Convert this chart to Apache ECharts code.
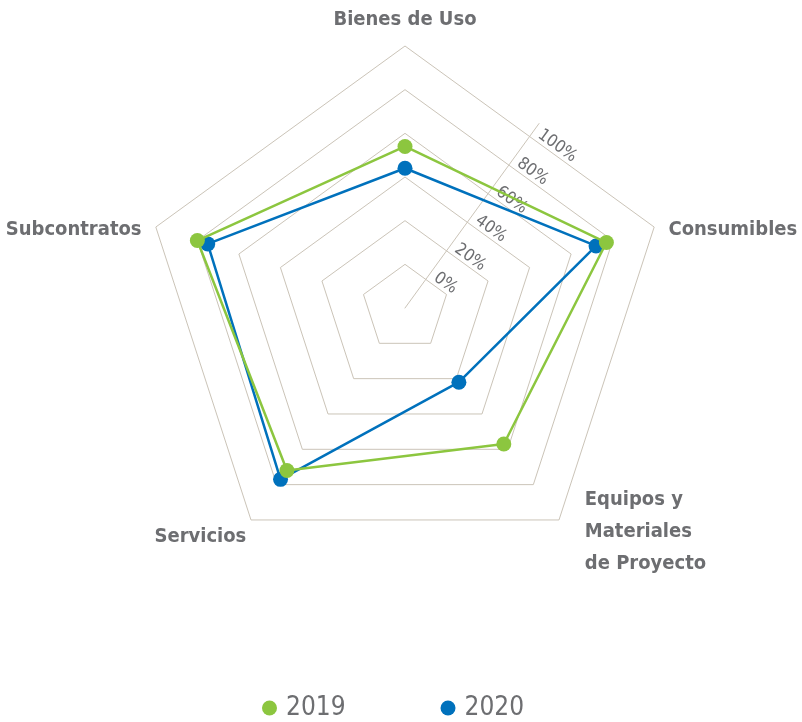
<!DOCTYPE html>
<html><head><meta charset="utf-8">
<script src="https://cdn.jsdelivr.net/npm/echarts@6/dist/echarts.min.js"></script>
<style>html,body{margin:0;padding:0;background:#fff}#c{width:802px;height:722px}</style>
</head><body><div id="c"></div>
<script>
// Indicators listed in ECharts drawing order (counter-clockwise from the top)
const categories = ['Bienes de Uso', 'Subcontratos', 'Servicios', 'Equipos y\nMateriales\nde Proyecto', 'Consumibles'];
const values2019 = [54, 80, 72, 57, 77];
const values2020 = [44, 75, 77, 22, 72];
const seriesNames = ['2019', '2020'];
const tickValues = [0, 20, 40, 60, 80, 100];

const FONT = '"Liberation Sans Narrow", "DejaVu Sans Condensed", Roboto, sans-serif';
const GREEN = '#8cc63f', BLUE = '#0071bc', GRID = '#cbc4b8', TXT = '#6d6e71';

// per-indicator name placement tweaks
const nameTweaks = [
  {nameGap: 10},
  {nameTextStyle: {verticalAlign: 'top', lineHeight: 14}},
  {nameGap: 8, nameTextStyle: {verticalAlign: 'top', lineHeight: 20}},
  {nameTextStyle: {padding: [0, 0, 0, 17]}},
  {nameTextStyle: {verticalAlign: 'top', lineHeight: 14}}
];

const chart = echarts.init(document.getElementById('c'), null, {renderer: 'canvas'});
chart.setOption({
  animation: false,
  backgroundColor: '#fff',
  legend: {
    data: seriesNames, left: 257, top: 690, icon: 'circle',
    itemWidth: 15, itemHeight: 15, itemGap: 95,
    textStyle: {fontSize: 26, color: TXT, fontFamily: FONT, padding: [0, 0, 0, 4]}
  },
  radar: {
    center: [405, 308], radius: 262, startAngle: 90, shape: 'polygon', splitNumber: 6,
    nameGap: 15,
    axisName: {color: TXT, fontWeight: 'bold', fontSize: 20, fontFamily: FONT, lineHeight: 32},
    indicator: categories.map((n, i) => Object.assign({name: n, min: -20, max: 100}, nameTweaks[i])),
    axisLine: {show: false}, axisTick: {show: false}, axisLabel: {show: false},
    splitLine: {lineStyle: {color: GRID, width: 1}},
    splitArea: {show: false}
  },
  polar: {center: [405, 308], radius: 228},
  angleAxis: {show: false, startAngle: 54, min: 0, max: 360},
  radiusAxis: {
    min: -20, max: 109, interval: 20,
    axisLine: {show: true, lineStyle: {color: GRID, width: 1}},
    axisTick: {show: false}, splitLine: {show: false},
    axisLabel: {
      rotate: -36, margin: -6, align: 'left', verticalAlign: 'bottom',
      color: TXT, fontSize: 17, fontFamily: FONT,
      formatter: v => tickValues.includes(v) ? v + '%' : ''
    }
  },
  series: [
    {type: 'radar', name: '2020', symbol: 'circle', symbolSize: 15, z: 2,
     lineStyle: {width: 2.5, color: BLUE}, itemStyle: {color: BLUE},
     data: [{name: '2020', value: values2020}]},
    {type: 'radar', name: '2019', symbol: 'circle', symbolSize: 15, z: 3,
     lineStyle: {width: 2.5, color: GREEN}, itemStyle: {color: GREEN},
     data: [{name: '2019', value: values2019}]}
  ]
});
</script></body></html>
